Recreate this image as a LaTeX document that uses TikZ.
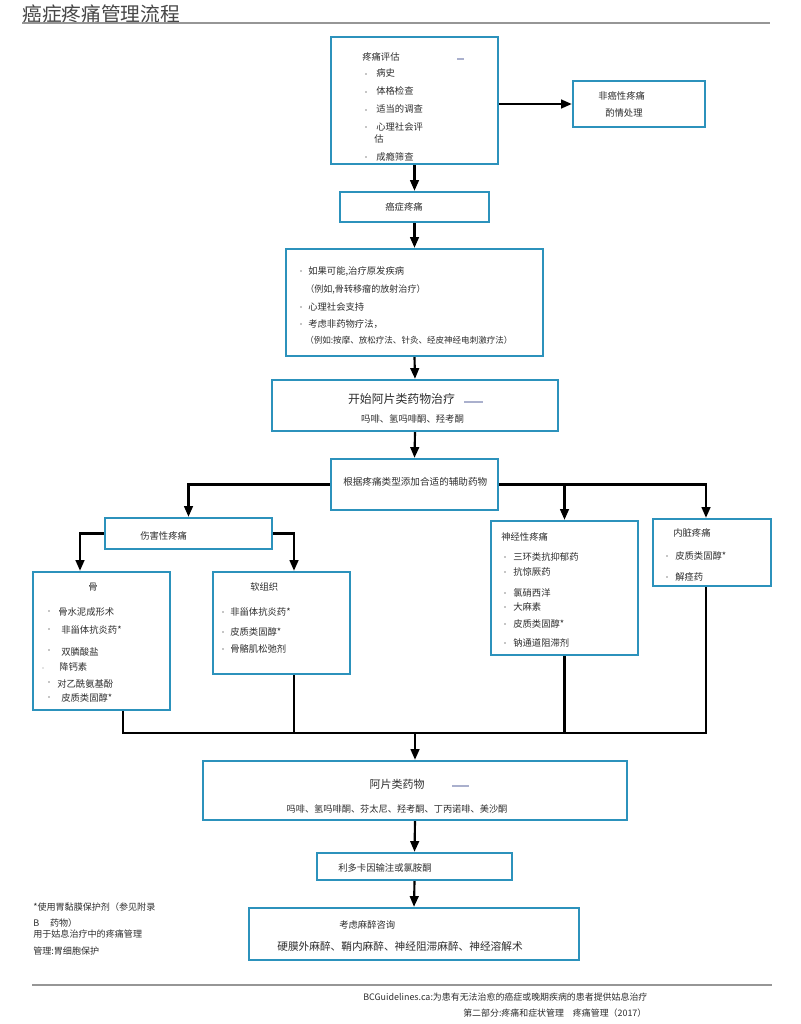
\documentclass[tikz,border=0pt]{standalone}
\usepackage{fontspec}
\setmainfont{Noto Sans CJK SC}
\usetikzlibrary{arrows.meta,fit}
\definecolor{boxc}{RGB}{44,146,188}
\definecolor{txtc}{RGB}{45,45,45}
\definecolor{rulec}{RGB}{150,150,150}
\definecolor{dashc}{RGB}{170,176,205}
\begin{document}
\begin{tikzpicture}[x=0.75pt,y=-0.75pt,
  box/.style={draw=boxc,line width=1.8pt,inner sep=0pt},
  txt/.style={inner sep=0pt,anchor=west,text=txtc,font=\fontsize{7}{8}\selectfont},
  ctxt/.style={txt,anchor=center},
  dot/.style={circle,fill=txtc!55,inner sep=0pt,minimum size=1.3pt},
  arr/.style={line width=1.6pt,-{Triangle[width=6.5pt,length=8pt]}},
  ln/.style={line width=1.6pt},
  gdash/.style={draw=dashc,line width=0.8pt},
  rule/.style={draw=rulec,line width=1.5pt}
]
\useasboundingbox (0,0) rectangle (800,1024);

% title
\node[txt,font=\fontsize{14.8}{16}\selectfont,text=black!72] (title) at (22,14) {癌症疼痛管理流程};
\draw[rule] (22,23) -- (770,23);

% boxes
\node[box,fit={(331,37)(498,164)}] (b1) {};
\node[box,fit={(573,81)(705,127)}] (nc) {};
\node[box,fit={(340,192)(489,222)}] (b2) {};
\node[box,fit={(286,249)(543,356)}] (b3) {};
\node[box,fit={(272,380)(558,431)}] (b4) {};
\node[box,fit={(331,459)(498,510)}] (b5) {};
\node[box,fit={(105,518)(272,549)}] (noci) {};
\node[box,fit={(33,572)(170,710)}] (bone) {};
\node[box,fit={(213,572)(350,674)}] (soft) {};
\node[box,fit={(491,521)(638,655)}] (neuro) {};
\node[box,fit={(653,519)(771,586)}] (visc) {};
\node[box,fit={(203,761)(627,820)}] (op2) {};
\node[box,fit={(317,853)(512,880)}] (lido) {};
\node[box,fit={(249,908)(579,960)}] (anes) {};

% b1 text
\node[txt] (b1t) at (362,57) {疼痛评估};
\draw[gdash] (457,59) -- (464,59);
\node[dot] (b1d1) at (366,74) {};  \node[txt] (b1i1) at (376,73) {病史};
\node[dot] (b1d2) at (366,92) {};  \node[txt] (b1i2) at (376,91) {体格检查};
\node[dot] (b1d3) at (366,110) {}; \node[txt] (b1i3) at (376,109) {适当的调查};
\node[dot] (b1d4) at (366,127) {}; \node[txt] (b1i4) at (376,127) {心理社会评};
\node[txt] (b1i4b) at (374,139) {估};
\node[dot] (b1d5) at (366,157) {}; \node[txt] (b1i5) at (376,157) {成瘾筛查};

% nc text
\node[txt] (nct1) at (598,96) {非癌性疼痛};
\node[txt] (nct2) at (605,113) {酌情处理};

% b2 text
\node[ctxt] (b2t) at (404,207) {癌症疼痛};

% b3 text
\node[dot] (b3d1) at (301,271) {}; \node[txt] (b3i1) at (308,271) {如果可能,治疗原发疾病};
\node[txt,font=\fontsize{6.8}{8}\selectfont] (b3i1b) at (305,289) {（例如,骨转移瘤的放射治疗）};
\node[dot] (b3d2) at (301,307) {}; \node[txt] (b3i2) at (308,307) {心理社会支持};
\node[dot] (b3d3) at (301,324) {}; \node[txt] (b3i3) at (308,324) {考虑非药物疗法，};
\node[txt,font=\fontsize{6.4}{8}\selectfont] (b3i3b) at (305,340) {（例如:按摩、放松疗法、针灸、经皮神经电刺激疗法）};

% b4 text
\node[ctxt,font=\fontsize{8.9}{10}\selectfont] (b4t) at (401.5,399) {开始阿片类药物治疗};
\draw[gdash] (464,402) -- (483,402);
\node[ctxt] (b4s) at (412.5,419) {吗啡、氢吗啡酮、羟考酮};

% b5 text
\node[txt,font=\fontsize{7.2}{8}\selectfont] (b5t) at (343,482) {根据疼痛类型添加合适的辅助药物};

% noci text
\node[txt] (nocit) at (140,536) {伤害性疼痛};

% bone text
\node[ctxt] (bonet) at (93,587) {骨};
\node[dot] (bod1) at (49,611) {}; \node[txt] (boi1) at (58,612) {骨水泥成形术};
\node[dot] (bod2) at (49,629) {}; \node[txt] (boi2) at (61,630) {非甾体抗炎药*};
\node[dot] (bod3) at (49,650) {}; \node[txt] (boi3) at (61,652) {双膦酸盐};
\node[dot,minimum size=0.8pt] (bod4) at (43,668) {}; \node[txt] (boi4) at (59,667) {降钙素};
\node[dot] (bod5) at (49,682) {}; \node[txt] (boi5) at (57,684) {对乙酰氨基酚};
\node[dot] (bod6) at (49,697) {}; \node[txt] (boi6) at (61,698) {皮质类固醇*};

% soft text
\node[txt] (softt) at (250,587) {软组织};
\node[dot] (sod1) at (223,612) {}; \node[txt] (soi1) at (230,612) {非甾体抗炎药*};
\node[dot] (sod2) at (223,632) {}; \node[txt] (soi2) at (230,632) {皮质类固醇*};
\node[dot] (sod3) at (223,649) {}; \node[txt] (soi3) at (230,649) {骨骼肌松弛剂};

% neuro text
\node[txt] (neut) at (501,537) {神经性疼痛};
\node[dot] (ned1) at (505,557) {}; \node[txt] (nei1) at (513,557) {三环类抗抑郁药};
\node[dot] (ned2) at (505,572) {}; \node[txt] (nei2) at (513,572) {抗惊厥药};
\node[dot] (ned3) at (505,593) {}; \node[txt] (nei3) at (513,593) {氯硝西洋};
\node[dot] (ned4) at (505,607) {}; \node[txt] (nei4) at (513,607) {大麻素};
\node[dot] (ned5) at (505,624) {}; \node[txt] (nei5) at (513,624) {皮质类固醇*};
\node[dot] (ned6) at (505,643) {}; \node[txt] (nei6) at (513,643) {钠通道阻滞剂};

% visc text
\node[txt] (vist) at (673,533) {内脏疼痛};
\node[dot] (vid1) at (667,556) {}; \node[txt] (vii1) at (675,556) {皮质类固醇*};
\node[dot] (vid2) at (667,577) {}; \node[txt] (vii2) at (675,577) {解痉药};

% op2 text
\node[ctxt,font=\fontsize{8.25}{10}\selectfont] (op2t) at (397,784) {阿片类药物};
\draw[gdash] (452,786) -- (469,786);
\node[ctxt,font=\fontsize{6.9}{8}\selectfont] (op2s) at (397,809) {吗啡、氢吗啡酮、芬太尼、羟考酮、丁丙诺啡、美沙酮};

% lido text
\node[txt] (lidot) at (338,868) {利多卡因输注或氯胺酮};

% anes text
\node[txt] (anest) at (339,925) {考虑麻醉咨询};
\node[ctxt,font=\fontsize{8}{9}\selectfont] (aness) at (400,946) {硬膜外麻醉、鞘内麻醉、神经阻滞麻醉、神经溶解术};

% notes
\node[txt,font=\fontsize{6.8}{8}\selectfont] (n1) at (33,907) {*使用胃黏膜保护剂（参见附录};
\node[txt,font=\fontsize{6.8}{8}\selectfont] (n2) at (33,923) {B\hspace{1.2em}药物）};
\node[txt,font=\fontsize{6.8}{8}\selectfont] (n3) at (33,934) {用于姑息治疗中的疼痛管理};
\node[txt,font=\fontsize{6.8}{8}\selectfont] (n4) at (33,951) {管理:胃细胞保护};

% footer
\draw[rule] (32,985) -- (772,985);
\node[txt,font=\fontsize{6.7}{8}\selectfont] (f1) at (363,997) {BCGuidelines.ca:为患有无法治愈的癌症或晚期疾病的患者提供姑息治疗};
\node[txt,font=\fontsize{6.7}{8}\selectfont] (f2) at (463,1013) {第二部分:疼痛和症状管理\hspace{1em}疼痛管理（2017）};

% connector columns
\coordinate (vcol) at (706,0);
\coordinate (bcol) at (80,0);
\coordinate (scol) at (294,0);
\coordinate (bocol) at (123,0);
\coordinate (brow) at (0,733);

% connectors
\draw[arr] (b1.east |- nc.west) -- (nc.west);
\draw[arr] (b1.south) -- (b2.north);
\draw[arr] (b2.south) -- (b3.north);
\draw[arr] (b3.south) -- (b4.north);
\draw[arr] (b4.south) -- (b5.north);
\draw[arr] (b5.west) -| (noci.north);
\draw[arr] (b5.east) -| (vcol |- visc.north);
\draw[arr] (b5.east -| neuro.north) -- (neuro.north);
\draw[arr] (noci.west) -| (bcol |- bone.north);
\draw[arr] (noci.east) -| (scol |- soft.north);
\draw[ln] (bocol |- bone.south) |- (vcol |- brow) -- (vcol |- visc.south);
\draw[ln] (scol |- soft.south) -- (scol |- brow);
\draw[ln] (neuro.south) -- (neuro.south |- brow);
\draw[arr] (op2.north |- brow) -- (op2.north);
\draw[arr] (op2.south) -- (lido.north);
\draw[arr] (lido.south) -- (anes.north);
\end{tikzpicture}
\end{document}
